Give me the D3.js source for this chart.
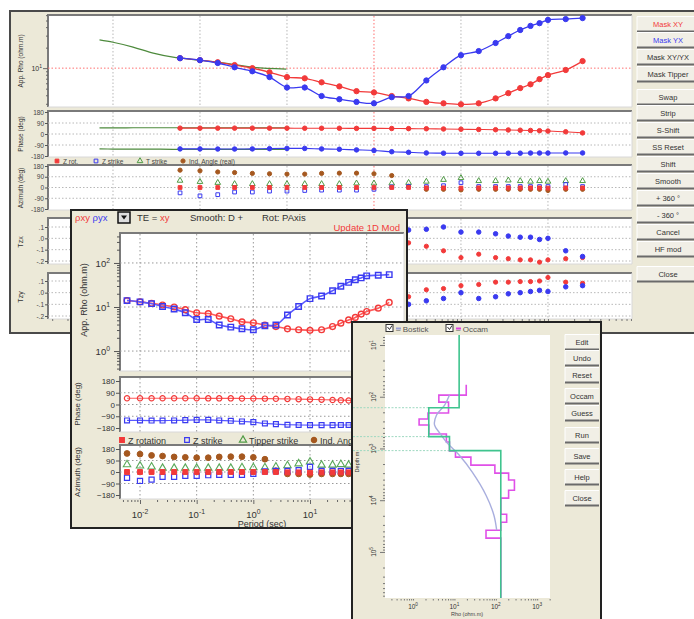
<!DOCTYPE html>
<html>
<head>
<meta charset="utf-8">
<script src="https://cdn.jsdelivr.net/npm/d3@7"></script>
<style>
  body { margin: 0; background: #fff; }
  svg { display: block; font-family: "Liberation Sans", Arial, sans-serif; }
</style>
</head>
<body>
<div id="chart"></div>
<script>
// ---- data ----
const periods = [0.0059, 0.01, 0.016, 0.025, 0.04, 0.063, 0.1, 0.16, 0.25, 0.4, 0.63, 1, 1.6, 2.5, 4, 6.3, 10, 16, 25, 35, 48, 63, 80, 100, 160, 250];
const rhoXY = [14.0, 13.1, 12.2, 11.1, 10.0, 8.7, 7.4, 7.1, 6.2, 5.4, 4.6, 4.4, 3.9, 3.6, 3.2, 3.05, 2.95, 3.05, 3.6, 4.3, 5.1, 5.8, 6.9, 7.9, 9.4, 12.7];
const rhoYX = [14.0, 13.1, 11.9, 10.3, 9.0, 7.4, 5.2, 5.2, 3.9, 3.5, 3.2, 3.05, 3.75, 3.9, 6.6, 10.3, 15.5, 17.8, 23.4, 29.5, 36.3, 41.7, 45.7, 51, 52.5, 54.3];
const phaseXY = [48, 48, 48, 48, 48, 48, 48, 47, 47, 47, 46, 46, 45, 44, 43, 41, 39, 37, 35, 33, 31, 29, 27, 24, 18, 9];
const phaseYX = [-122, -122, -123, -123, -122, -120, -118, -118, -122, -125, -130, -135, -145, -150, -155, -157, -158, -158, -158, -157, -157, -156, -156, -156, -155, -155];
const zRotation = [0, 0, 0, 0, 0, 0, 0, 0, 0, 0, 0, 0, 0, 0, -3, -3, -5, -3, -3, -3, -3, -3, -3, -5, -3, -3];
const zStrike = [-45, -70, -60, -38, -38, -30, -30, -25, -22, -22, -22, -15, 5, 8, 8, 15, 40, 8, 8, 8, 8, 8, 8, 8, 25, 8];
const tipperStrike = [58, 48, 40, 30, 30, 30, 30, 30, 30, 30, 35, 35, 35, 40, 50, 65, 80, 55, 55, 60, 55, 50, 55, 50, 55, 55];
const indAngle = [145, 140, 130, 125, 118, 115, 112, 112, 118, 120, 120, 115, 100, 10, -15, -15, -20, -15, -15, -15, -15, -15, -15, -25, -15, -15];
// tipper components (only the long-period part is visible; the rest sits behind the second window)
const tzxRed = [null, null, null, null, null, null, null, null, null, null, null, null, null, -0.04, -0.07, -0.11, -0.17, -0.14, -0.17, -0.18, -0.19, -0.19, -0.21, -0.19, -0.18, -0.17];
const tzxBlue = [null, null, null, null, null, null, null, null, null, null, null, null, null, 0.073, 0.08, 0.1, 0.055, 0.055, 0.04, 0.02, 0.01, 0.01, -0.01, 0.0, -0.11, -0.16];
const tzyRed = [null, null, null, null, null, null, null, null, null, null, null, null, null, -0.035, 0.025, 0.035, 0.06, 0.07, 0.09, 0.09, 0.095, 0.095, 0.1, 0.13, 0.09, 0.08];
const tzyBlue = [null, null, null, null, null, null, null, null, null, null, null, null, null, -0.1, -0.07, -0.05, 0.0, -0.05, -0.035, -0.01, 0.0, 0.01, 0.02, 0.01, 0.05, 0.06];

// green reference curve in the first window
const refPeriods = [0.0007, 0.001, 0.0017, 0.0029, 0.0049, 0.01, 0.024, 0.041, 0.098];
const refRho = [26, 24, 20.4, 16.6, 14.5, 13.1, 11.4, 10.3, 9.7];
const refPhaseXY = [50, 50, 51, 51, 51, 51, 51, 51, 51];
const refPhaseYX = [-122, -123, -124, -124, -125, -125, -125, -125, -125];

// 1D models (depth in m, rho in ohm.m)
const modelDepths = [163, 590, 1100];
const modelRho = [13, 2.4, 7.6, 132];
const occamTops = [59, 93, 127, 206, 270, 352, 525, 750, 1120, 1470, 2100, 3000, 4080, 6400, 9100, 18700, 26600, 38000, 54000];
const occamRho = [19.3, 4.2, 7.2, 2.3, 1.4, 2.4, 6.4, 7.6, 10.6, 25, 95, 204, 282, 204, 132, 183, 132, 58, 132];
const bostickDepth = [93, 145, 225, 350, 500, 755, 1340, 2870, 8000, 19500, 38000];
const bostickRho = [7.6, 5.8, 3.7, 3.3, 4.4, 6.4, 13, 27, 58, 90, 105];

const topButtons = ["Mask XY", "Mask YX", "Mask XY/YX", "Mask Tipper", "Swap", "Strip", "S-Shift", "SS Reset", "Shift", "Smooth", "+ 360 °", "- 360 °", "Cancel", "HF mod", "Close"];
const modelButtons = ["Edit", "Undo", "Reset", "Occam", "Guess", "Run", "Save", "Help", "Close"];

const beige = "#ece9d8";
const red = "#f23a3a", blue = "#3a3af0", green = "#4f9a45", brown = "#a5581f";

const svg = d3.select("#chart").append("svg").attr("width", 694).attr("height", 619);

const isDecade = d => Math.abs(Math.log10(d) - Math.round(Math.log10(d))) < 1e-6;

function box(g, x0, y0, x1, y1) {
  g.append("rect").attr("x", x0).attr("y", y0).attr("width", x1 - x0).attr("height", y1 - y0).attr("fill", "#fff");
  g.append("path").attr("d", `M${x0},${y1}V${y0}H${x1}`).attr("fill", "none").attr("stroke", "#7a7a7a").attr("stroke-width", 2);
  g.append("path").attr("d", `M${x0},${y1}H${x1}V${y0}`).attr("fill", "none").attr("stroke", "#d8d8d8").attr("stroke-width", 1);
}

function supLabel(g, x, y, exp, size, anchor, rotate) {
  const t = g.append("text").attr("x", x).attr("y", y).attr("text-anchor", anchor)
    .attr("font-size", size).attr("fill", "#333");
  t.append("tspan").text("10");
  t.append("tspan").attr("dy", -size * 0.45).attr("font-size", size * 0.72).text(exp);
  if (rotate) t.attr("transform", `rotate(-90,${x},${y})`);
}

function vLabel(g, x, y, text, size) {
  g.append("text").attr("transform", `translate(${x},${y}) rotate(-90)`).attr("text-anchor", "middle")
    .attr("font-size", size).attr("fill", "#333").text(text);
}

function button(g, x, y, w, h, label, color, size) {
  g.append("rect").attr("x", x).attr("y", y).attr("width", w).attr("height", h).attr("fill", "#f1efe6");
  g.append("path").attr("d", `M${x},${y + h}V${y}H${x + w}`).attr("stroke", "#fff").attr("fill", "none");
  g.append("path").attr("d", `M${x},${y + h}H${x + w}`).attr("stroke", "#6a6a6a").attr("stroke-width", 2);
  g.append("text").attr("x", x + w / 2).attr("y", y + h / 2 + size * 0.36).attr("text-anchor", "middle")
    .attr("font-size", size).attr("fill", color || "#333").text(label);
}

function symbolPath(type, size) {
  return d3.symbol().type(type).size(size)();
}

function marks(g, xs, ys, xv, yv, type, color, filled, size, sw) {
  g.append("g").selectAll("path")
    .data(xv.map((p, i) => [p, yv[i]]).filter(d => d[1] !== null))
    .join("path")
    .attr("transform", d => `translate(${xs(d[0])},${ys(d[1])})`)
    .attr("d", symbolPath(type, size))
    .attr("fill", filled ? color : "none")
    .attr("stroke", color)
    .attr("stroke-width", sw || 1);
}

function curve(g, xs, ys, xv, yv, color, width) {
  const line = d3.line().defined(d => d[1] !== null).x(d => xs(d[0])).y(d => ys(d[1])).curve(d3.curveCatmullRom);
  g.append("path").datum(xv.map((p, i) => [p, yv[i]])).attr("d", line)
    .attr("fill", "none").attr("stroke", color).attr("stroke-width", width || 1.2);
}

// =================== window 1: editing view ===================
const w1 = svg.append("g");
w1.append("rect").attr("x", 10).attr("y", 11).attr("width", 700).attr("height", 322)
  .attr("fill", beige).attr("stroke", "#4a4a4a").attr("stroke-width", 2);

const x1 = d3.scaleLog().domain([10 ** -3.747, 10 ** 2.966]).range([48, 632]);
const decades = [1e-3, 1e-2, 1e-1, 1, 10, 100];
const yRho1 = d3.scaleLog().domain([10 ** 0.43, 10 ** 1.78]).range([107, 15]);
const yPh1 = d3.scaleLinear().domain([-180, 180]).range([156, 112]);
const yAz1 = d3.scaleLinear().domain([-180, 180]).range([209, 166]);
const yTzx = d3.scaleLinear().domain([-0.2, 0.1]).range([261, 227]);
const yTzy = d3.scaleLinear().domain([-0.2, 0.1]).range([316, 281]);

const panels1 = [
  { y0: 15, y1: 107, scale: yRho1 },
  { y0: 111, y1: 157, scale: yPh1, ticks: [180, 90, 0, -90, -180], fmt: d => d },
  { y0: 165, y1: 210, scale: yAz1, ticks: [180, 90, 0, -90, -180], fmt: d => d },
  { y0: 218, y1: 264, scale: yTzx, ticks: [0.1, 0, -0.1, -0.2], fmt: d => d === 0 ? ".0" : (d < 0 ? "-" : "") + "." + Math.round(Math.abs(d) * 10) },
  { y0: 273, y1: 319, scale: yTzy, ticks: [0.1, 0, -0.1, -0.2], fmt: d => d === 0 ? ".0" : (d < 0 ? "-" : "") + "." + Math.round(Math.abs(d) * 10) }
];

panels1.forEach(p => {
  box(w1, 48, p.y0, 632, p.y1);
  decades.forEach(d => {
    w1.append("line").attr("x1", x1(d)).attr("x2", x1(d)).attr("y1", p.y0 + 1).attr("y2", p.y1)
      .attr("stroke", d === 1 ? "#ff7070" : "#b8b8b8").attr("stroke-dasharray", "1.5,2");
  });
  if (p.ticks) {
    p.ticks.forEach(t => {
      const y = p.scale(t);
      if (y > p.y0 + 2 && y < p.y1 - 2)
        w1.append("line").attr("x1", 48).attr("x2", 632).attr("y1", y).attr("y2", y)
          .attr("stroke", "#b8b8b8").attr("stroke-dasharray", "1.5,2");
    });
    w1.append("g").attr("transform", "translate(48,0)")
      .call(d3.axisLeft(p.scale).tickValues(p.ticks).tickSize(3).tickFormat(p.fmt).tickSizeOuter(0))
      .call(a => a.select(".domain").remove())
      .call(a => a.selectAll("text").attr("font-size", 6.5).attr("fill", "#444").attr("x", -4))
      .call(a => a.selectAll("line").attr("stroke", "#555"));
  }
});

// rho panel: log axis with minor ticks + red reference line at 10
w1.append("line").attr("x1", 48).attr("x2", 632).attr("y1", yRho1(10)).attr("y2", yRho1(10))
  .attr("stroke", "#ff7070").attr("stroke-dasharray", "1.5,2");
w1.append("g").attr("transform", "translate(48,0)")
  .call(d3.axisLeft(yRho1).tickFormat("").tickSize(2).tickSizeOuter(0))
  .call(a => a.select(".domain").remove())
  .call(a => a.selectAll(".tick line").attr("x2", d => isDecade(d) ? -5 : -2).attr("stroke", "#666"));
supLabel(w1, 42, yRho1(10) + 3, "1", 7, "end");

// bottom log ticks of the first window
w1.append("g").attr("transform", "translate(0,319)")
  .call(d3.axisBottom(x1).tickFormat("").tickSize(2).tickSizeOuter(0))
  .call(a => a.select(".domain").remove())
  .call(a => a.selectAll(".tick line").attr("y2", d => isDecade(d) ? 4 : 2).attr("stroke", "#777"));

vLabel(w1, 23, 61, "App. Rho (ohm.m)", 6.5);
vLabel(w1, 23, 134, "Phase (deg)", 6.5);
vLabel(w1, 23, 188, "Azimuth (deg)", 6.5);
vLabel(w1, 23, 242, "Tzx", 7);
vLabel(w1, 23, 297, "Tzy", 7);

// legend row of azimuth panel
const leg1 = [
  { x: 57, type: d3.symbolSquare, color: red, filled: true, text: "Z rot." },
  { x: 96, type: d3.symbolSquare, color: blue, filled: false, text: "Z strike" },
  { x: 140, type: d3.symbolTriangle, color: green, filled: false, text: "T strike" },
  { x: 183, type: d3.symbolCircle, color: brown, filled: true, text: "Ind. Angle (real)" }
];
leg1.forEach(l => {
  w1.append("path").attr("transform", `translate(${l.x},161)`).attr("d", symbolPath(l.type, 14))
    .attr("fill", l.filled ? l.color : "none").attr("stroke", l.color);
  w1.append("text").attr("x", l.x + 6).attr("y", 163.5).attr("font-size", 6.5).attr("fill", "#444").text(l.text);
});

// reference (green) curves
curve(w1, x1, yRho1, refPeriods, refRho, "#4d8a3c", 1.2);
curve(w1, x1, yPh1, refPeriods, refPhaseXY, "#4d8a3c", 1.2);
curve(w1, x1, yPh1, refPeriods, refPhaseYX, "#4d8a3c", 1.2);

// data
curve(w1, x1, yRho1, periods, rhoXY, red, 1.3);
curve(w1, x1, yRho1, periods, rhoYX, blue, 1.3);
marks(w1, x1, yRho1, periods, rhoXY, d3.symbolCircle, red, true, 22);
marks(w1, x1, yRho1, periods, rhoYX, d3.symbolCircle, blue, true, 22);
curve(w1, x1, yPh1, periods, phaseXY, red, 1.1);
curve(w1, x1, yPh1, periods, phaseYX, blue, 1.1);
marks(w1, x1, yPh1, periods, phaseXY, d3.symbolCircle, red, true, 16);
marks(w1, x1, yPh1, periods, phaseYX, d3.symbolCircle, blue, true, 16);
marks(w1, x1, yAz1, periods, indAngle, d3.symbolCircle, brown, true, 14);
marks(w1, x1, yAz1, periods, tipperStrike, d3.symbolTriangle, green, false, 14);
marks(w1, x1, yAz1, periods, zStrike, d3.symbolSquare, blue, false, 14);
marks(w1, x1, yAz1, periods, zRotation, d3.symbolSquare, red, true, 14);
marks(w1, x1, yTzx, periods, tzxRed, d3.symbolCircle, red, true, 14);
marks(w1, x1, yTzx, periods, tzxBlue, d3.symbolCircle, blue, true, 16);
marks(w1, x1, yTzy, periods, tzyRed, d3.symbolCircle, red, true, 14);
marks(w1, x1, yTzy, periods, tzyBlue, d3.symbolCircle, blue, true, 16);

// button column
const btnCenters1 = [24, 40, 57, 74, 97, 113, 130, 147, 164, 181, 198, 215, 232, 249, 274];
topButtons.forEach((b, i) => {
  const c = i === 0 ? red : i === 1 ? blue : "#333";
  button(w1, 637, btnCenters1[i] - 7.5, 62, 15, b, c, 7.5);
});

// =================== window 2: sounding view ===================
const w2 = svg.append("g");
w2.append("rect").attr("x", 71).attr("y", 210).attr("width", 336).attr("height", 318)
  .attr("fill", beige).attr("stroke", "#222").attr("stroke-width", 2);

const x2 = d3.scaleLog().domain([10 ** -2.353, 10 ** 2.641]).range([120, 403]);
const decades2 = [1e-2, 1e-1, 1, 10, 100];
const yRho2 = d3.scaleLog().domain([10 ** -0.43, 10 ** 2.68]).range([370, 233]);
const yPh2 = d3.scaleLinear().domain([-180, 180]).range([428, 381]);
const yAz2 = d3.scaleLinear().domain([-180, 180]).range([495, 449]);

// header line
const hdr = w2.append("text").attr("x", 75).attr("y", 221).attr("font-size", 9.5);
hdr.append("tspan").attr("fill", red).text("ρxy ");
hdr.append("tspan").attr("fill", blue).text("ρyx");
w2.append("rect").attr("x", 118).attr("y", 212).attr("width", 12).attr("height", 11).attr("fill", "#ddd").attr("stroke", "#111").attr("stroke-width", 1.5);
w2.append("path").attr("d", "M121,215.5h6l-3,4z").attr("fill", "#111");
const hdr2 = w2.append("text").attr("x", 137).attr("y", 221).attr("font-size", 9.5).attr("fill", "#333");
hdr2.append("tspan").text("TE = ");
hdr2.append("tspan").attr("fill", red).text("xy");
w2.append("text").attr("x", 190).attr("y", 221).attr("font-size", 9.5).attr("fill", "#333").text("Smooth: D +");
w2.append("text").attr("x", 262).attr("y", 221).attr("font-size", 9.5).attr("fill", "#333").text("Rot: PAxis");
w2.append("text").attr("x", 400).attr("y", 231).attr("text-anchor", "end").attr("font-size", 9.5).attr("fill", red).text("Update 1D Mod");

const panels2 = [
  { y0: 233, y1: 371, scale: yRho2, log: true },
  { y0: 377, y1: 432, scale: yPh2, ticks: [180, 90, 0, -90, -180] },
  { y0: 445, y1: 499, scale: yAz2, ticks: [180, 90, 0, -90, -180] }
];
panels2.forEach(p => {
  box(w2, 120, p.y0, 404, p.y1);
  decades2.forEach(d => {
    w2.append("line").attr("x1", x2(d)).attr("x2", x2(d)).attr("y1", p.y0 + 1).attr("y2", p.y1)
      .attr("stroke", "#999").attr("stroke-dasharray", "1.5,2.5");
  });
  const gridVals = p.log ? [1, 10, 100] : [90, 0, -90];
  gridVals.forEach(v => {
    w2.append("line").attr("x1", 120).attr("x2", 404).attr("y1", p.scale(v)).attr("y2", p.scale(v))
      .attr("stroke", "#999").attr("stroke-dasharray", "1.5,2.5");
  });
  if (p.ticks) {
    w2.append("g").attr("transform", "translate(120,0)")
      .call(d3.axisLeft(p.scale).tickValues(p.ticks).tickSize(4).tickSizeOuter(0))
      .call(a => a.select(".domain").remove())
      .call(a => a.selectAll("text").attr("font-size", 8).attr("fill", "#333").attr("x", -5))
      .call(a => a.selectAll("line").attr("stroke", "#555"));
  }
});
w2.append("g").attr("transform", "translate(120,0)")
  .call(d3.axisLeft(yRho2).tickFormat("").tickSize(2).tickSizeOuter(0))
  .call(a => a.select(".domain").remove())
  .call(a => a.selectAll(".tick line").attr("x2", d => isDecade(d) ? -6 : -3).attr("stroke", "#555"));
[[100, "2"], [10, "1"], [1, "0"]].forEach(([v, e]) => supLabel(w2, 110, yRho2(v) + 4, e, 9.5, "end"));

vLabel(w2, 87, 300, "App. Rho (ohm.m)", 9);
vLabel(w2, 80, 404, "Phase (deg)", 8);
vLabel(w2, 80, 472, "Azimuth (deg)", 8);

// period axis
w2.append("g").attr("transform", "translate(0,500)")
  .call(d3.axisBottom(x2).tickFormat("").tickSize(2).tickSizeOuter(0))
  .call(a => a.select(".domain").remove())
  .call(a => a.selectAll(".tick line").attr("y2", d => isDecade(d) ? 4 : 2).attr("stroke", "#666"));
[[1e-2, "-2"], [1e-1, "-1"], [1, "0"], [10, "1"], [100, "2"]].forEach(([v, e]) => supLabel(w2, x2(v), 518, e, 9.5, "middle"));
w2.append("text").attr("x", 262).attr("y", 527).attr("text-anchor", "middle").attr("font-size", 9).attr("fill", "#333").text("Period (sec)");

// legend row
const leg2 = [
  { x: 122, type: d3.symbolSquare, color: red, filled: true, text: "Z rotation" },
  { x: 187, type: d3.symbolSquare, color: blue, filled: false, text: "Z strike" },
  { x: 243, type: d3.symbolTriangle, color: green, filled: false, text: "Tipper strike" },
  { x: 314, type: d3.symbolCircle, color: brown, filled: true, text: "Ind. Angle (real)" }
];
leg2.forEach(l => {
  w2.append("path").attr("transform", `translate(${l.x},440)`).attr("d", symbolPath(l.type, 22))
    .attr("fill", l.filled ? l.color : "none").attr("stroke", l.color).attr("stroke-width", 1.2);
  w2.append("text").attr("x", l.x + 6).attr("y", 443.5).attr("font-size", 9).attr("fill", "#333").text(l.text);
});

// data
curve(w2, x2, yRho2, periods, rhoXY, "#ff5a5a", 1.6);
curve(w2, x2, yRho2, periods, rhoYX, "#5a5aff", 1.6);
marks(w2, x2, yRho2, periods, rhoXY, d3.symbolCircle, red, false, 26, 1.4);
marks(w2, x2, yRho2, periods, rhoYX, d3.symbolSquare, blue, false, 30, 1.4);
curve(w2, x2, yPh2, periods, phaseXY, "#ff5a5a", 1.2);
curve(w2, x2, yPh2, periods, phaseYX, "#5a5aff", 1.2);
marks(w2, x2, yPh2, periods, phaseXY, d3.symbolCircle, red, false, 22, 1.2);
marks(w2, x2, yPh2, periods, phaseYX, d3.symbolSquare, blue, false, 24, 1.2);
marks(w2, x2, yAz2, periods, indAngle, d3.symbolCircle, brown, true, 26);
marks(w2, x2, yAz2, periods, tipperStrike, d3.symbolTriangle, "#5aa85a", false, 24, 1.1);
marks(w2, x2, yAz2, periods, zStrike, d3.symbolSquare, blue, false, 26, 1.2);
marks(w2, x2, yAz2, periods, zRotation, d3.symbolSquare, red, true, 24);

// =================== window 3: 1D model ===================
const w3 = svg.append("g");
w3.append("rect").attr("x", 352).attr("y", 322).attr("width", 249).attr("height", 310)
  .attr("fill", beige).attr("stroke", "#222").attr("stroke-width", 2);

const x3 = d3.scaleLog().domain([10 ** -0.678, 10 ** 3.31]).range([385, 550]);
const y3 = d3.scaleLog().domain([10 ** 0.807, 10 ** 5.89]).range([335, 598]);
w3.append("rect").attr("x", 385).attr("y", 335).attr("width", 165).attr("height", 263).attr("fill", "#fff");

// legend
[[386, "– Bostick", "#555"], [446, "– Occam", "#555"]].forEach(([x, t, c]) => {
  w3.append("rect").attr("x", x).attr("y", 324.5).attr("width", 7).attr("height", 7).attr("fill", "#fff").attr("stroke", "#333");
  w3.append("path").attr("d", `M${x + 1.5},${327}l2,2.5l2.5,-4`).attr("fill", "none").attr("stroke", "#333");
  w3.append("text").attr("x", x + 10).attr("y", 331.5).attr("font-size", 8).attr("fill", c).text(t);
});
w3.append("line").attr("x1", 456).attr("x2", 461).attr("y1", 328.5).attr("y2", 328.5).attr("stroke", "#e040e0").attr("stroke-width", 2);
w3.append("line").attr("x1", 396).attr("x2", 401).attr("y1", 328.5).attr("y2", 328.5).attr("stroke", "#9aa0d8").attr("stroke-width", 2);

// axes
w3.append("g").attr("transform", "translate(385,0)")
  .call(d3.axisLeft(y3).tickFormat("").tickSize(2).tickSizeOuter(0))
  .call(a => a.select(".domain").remove())
  .call(a => a.selectAll(".tick line").attr("x2", d => isDecade(d) ? -5 : -2).attr("stroke", "#777"));
[[10, "1"], [100, "2"], [1000, "3"], [1e4, "4"], [1e5, "5"]].forEach(([v, e]) => supLabel(w3, 376, y3(v), e, 6.5, "middle", true));
vLabel(w3, 359, 462, "Depth m", 5.5);
w3.append("g").attr("transform", "translate(0,599)")
  .call(d3.axisBottom(x3).tickFormat("").tickSize(1.5).tickSizeOuter(0))
  .call(a => a.select(".domain").remove())
  .call(a => a.selectAll(".tick line").attr("stroke", "#777"));
[[1, "0"], [10, "1"], [100, "2"], [1000, "3"]].forEach(([v, e]) => supLabel(w3, x3(v), 609, e, 6.5, "middle"));
w3.append("text").attr("x", 467).attr("y", 616).attr("text-anchor", "middle").attr("font-size", 5.5).attr("fill", "#444").text("Rho (ohm.m)");

// layer boundary guides
modelDepths.forEach((d, i) => {
  w3.append("line").attr("x1", 353).attr("x2", x3(Math.min(modelRho[i], modelRho[i + 1])))
    .attr("y1", y3(d)).attr("y2", y3(d)).attr("stroke", "#9ed8c0").attr("stroke-dasharray", "2,1.5");
});

function stepPath(tops, rhos, bottom) {
  let d = `M${x3(rhos[0])},${y3(tops[0])}`;
  for (let i = 0; i < rhos.length; i++) {
    const end = i + 1 < tops.length ? tops[i + 1] : bottom;
    d += `V${y3(end)}`;
    if (i + 1 < rhos.length) d += `H${x3(rhos[i + 1])}`;
  }
  return d;
}
const [depthTop, depthBottom] = y3.domain();
w3.append("path").attr("d", stepPath(occamTops, occamRho, depthBottom))
  .attr("fill", "none").attr("stroke", "#e050e8").attr("stroke-width", 1.6);
w3.append("path").datum(bostickDepth.map((d, i) => [bostickRho[i], d]))
  .attr("d", d3.line().x(d => x3(d[0])).y(d => y3(d[1])).curve(d3.curveCatmullRom))
  .attr("fill", "none").attr("stroke", "#a8aede").attr("stroke-width", 1.4);
w3.append("path").attr("d", stepPath([depthTop, ...modelDepths], modelRho, depthBottom))
  .attr("fill", "none").attr("stroke", "#3fc48e").attr("stroke-width", 1.6);

const btnCenters3 = [342, 358, 375, 396, 413, 435, 456, 477, 498];
modelButtons.forEach((b, i) => button(w3, 565, btnCenters3[i] - 7.5, 34, 15, b, "#333", 7.5));
</script>
</body>
</html>
